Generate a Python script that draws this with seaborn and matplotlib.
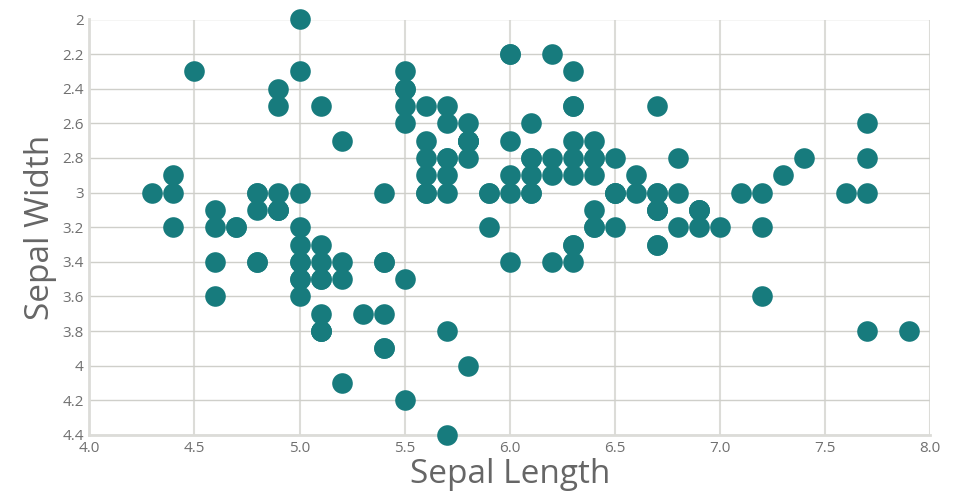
import matplotlib
matplotlib.use("Agg")
import matplotlib.pyplot as plt
import seaborn as sns
import pandas as pd

sepal_length = [
    5.1, 4.9, 4.7, 4.6, 5.0, 5.4, 4.6, 5.0, 4.4, 4.9, 5.4, 4.8, 4.8, 4.3, 5.8, 5.7, 5.4, 5.1, 5.7, 5.1,
    5.4, 5.1, 4.6, 5.1, 4.8, 5.0, 5.0, 5.2, 5.2, 4.7, 4.8, 5.4, 5.2, 5.5, 4.9, 5.0, 5.5, 4.9, 4.4, 5.1,
    5.0, 4.5, 4.4, 5.0, 5.1, 4.8, 5.1, 4.6, 5.3, 5.0,
    7.0, 6.4, 6.9, 5.5, 6.5, 5.7, 6.3, 4.9, 6.6, 5.2, 5.0, 5.9, 6.0, 6.1, 5.6, 6.7, 5.6, 5.8, 6.2, 5.6,
    5.9, 6.1, 6.3, 6.1, 6.4, 6.6, 6.8, 6.7, 6.0, 5.7, 5.5, 5.5, 5.8, 6.0, 5.4, 6.0, 6.7, 6.3, 5.6, 5.5,
    5.5, 6.1, 5.8, 5.0, 5.6, 5.7, 5.7, 6.2, 5.1, 5.7,
    6.3, 5.8, 7.1, 6.3, 6.5, 7.6, 4.9, 7.3, 6.7, 7.2, 6.5, 6.4, 6.8, 5.7, 5.8, 6.4, 6.5, 7.7, 7.7, 6.0,
    6.9, 5.6, 7.7, 6.3, 6.7, 7.2, 6.2, 6.1, 6.4, 7.2, 7.4, 7.9, 6.4, 6.3, 6.1, 7.7, 6.3, 6.4, 6.0, 6.9,
    6.7, 6.9, 5.8, 6.8, 6.7, 6.7, 6.3, 6.5, 6.2, 5.9,
]
sepal_width = [
    3.5, 3.0, 3.2, 3.1, 3.6, 3.9, 3.4, 3.4, 2.9, 3.1, 3.7, 3.4, 3.0, 3.0, 4.0, 4.4, 3.9, 3.5, 3.8, 3.8,
    3.4, 3.7, 3.6, 3.3, 3.4, 3.0, 3.4, 3.5, 3.4, 3.2, 3.1, 3.4, 4.1, 4.2, 3.1, 3.2, 3.5, 3.1, 3.0, 3.4,
    3.5, 2.3, 3.2, 3.5, 3.8, 3.0, 3.8, 3.2, 3.7, 3.3,
    3.2, 3.2, 3.1, 2.3, 2.8, 2.8, 3.3, 2.4, 2.9, 2.7, 2.0, 3.0, 2.2, 2.9, 2.9, 3.1, 3.0, 2.7, 2.2, 2.5,
    3.2, 2.8, 2.5, 2.8, 2.9, 3.0, 2.8, 3.0, 2.9, 2.6, 2.4, 2.4, 2.7, 2.7, 3.0, 3.4, 3.1, 2.3, 3.0, 2.5,
    2.6, 3.0, 2.6, 2.3, 2.7, 3.0, 2.9, 2.9, 2.5, 2.8,
    3.3, 2.7, 3.0, 2.9, 3.0, 3.0, 2.5, 2.9, 2.5, 3.6, 3.2, 2.7, 3.0, 2.5, 2.8, 3.2, 3.0, 3.8, 2.6, 2.2,
    3.2, 2.8, 2.8, 2.7, 3.3, 3.2, 2.8, 3.0, 2.8, 3.0, 2.8, 3.8, 2.8, 2.8, 2.6, 3.0, 3.4, 3.1, 3.0, 3.1,
    3.1, 3.1, 2.7, 3.2, 3.3, 3.0, 2.5, 3.0, 3.4, 3.0,
]
x_ticks = [4.0, 4.5, 5.0, 5.5, 6.0, 6.5, 7.0, 7.5, 8.0]
y_ticks = [2.0, 2.2, 2.4, 2.6, 2.8, 3.0, 3.2, 3.4, 3.6, 3.8, 4.0, 4.2, 4.4]

df = pd.DataFrame({"Sepal Length": sepal_length, "Sepal Width": sepal_width})

sns.set_style("white")
plt.rcParams["font.family"] = ["Open Sans", "DejaVu Sans"]

fig, ax = plt.subplots(figsize=(9.6, 5), dpi=100)
fig.subplots_adjust(left=0.093, right=0.969, top=0.961, bottom=0.13)

sns.scatterplot(data=df, x="Sepal Length", y="Sepal Width", ax=ax,
                color="#177b7d", s=220, linewidth=0, alpha=1, clip_on=False, zorder=3)

ax.set_xlim(4.0, 8.0)
ax.set_ylim(4.4, 2.0)
ax.set_xticks(x_ticks)
ax.set_xticklabels([f"{v:.1f}" for v in x_ticks])
ax.set_yticks(y_ticks)
ax.set_yticklabels([f"{v:g}" for v in y_ticks])

ax.xaxis.grid(True, color="#dcdcd8", linewidth=1.5)
ax.yaxis.grid(True, color="#cfcfca", linewidth=1)
ax.set_axisbelow(True)
for side in ["top", "right"]:
    ax.spines[side].set_visible(False)
for side in ["left", "bottom"]:
    ax.spines[side].set_color("#dcdcd8")
    ax.spines[side].set_linewidth(2)

ax.tick_params(axis="both", length=0, labelsize=11, labelcolor="#707070", pad=4)
ax.set_xlabel("Sepal Length", fontsize=24, color="#666666", labelpad=2)
ax.set_ylabel("Sepal Width", fontsize=24, color="#666666", labelpad=4)

fig.savefig("out.png")
